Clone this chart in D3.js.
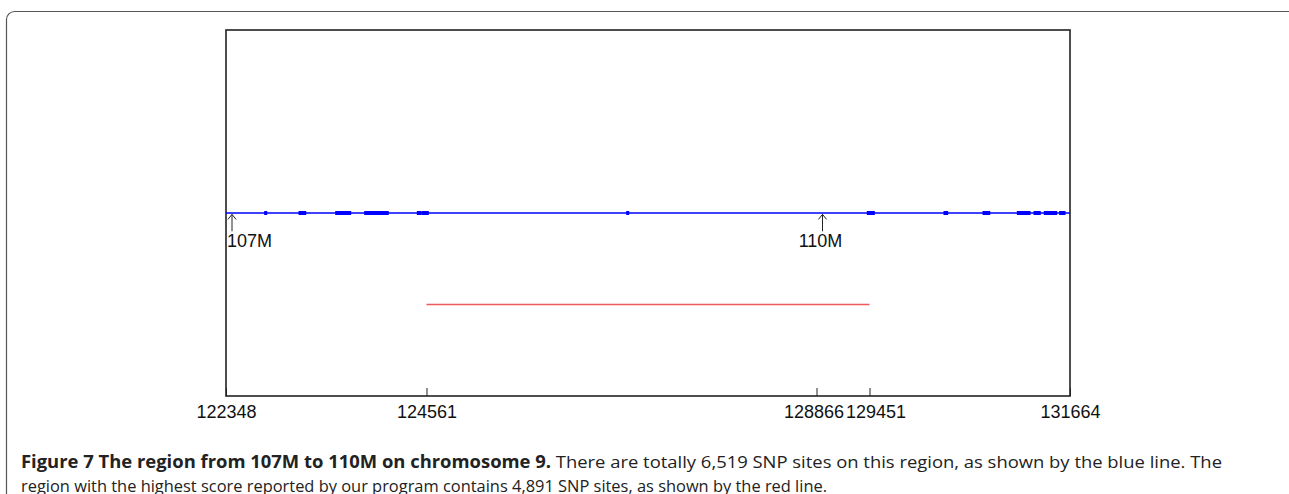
<!DOCTYPE html>
<html>
<head>
<meta charset="utf-8">
<script src="https://cdn.jsdelivr.net/npm/d3@7"></script>
<style>
  body { margin: 0; background: #fff; }
  svg { display: block; }
</style>
</head>
<body>
<script>
// x axis: SNP index, the ticks are the region borders
var tickValues = [122348, 124561, 128866, 129451, 131664];

// blue line: whole region, with the clustered SNP marks [start, end]
var blueRange = [122348, 131664];
var blueClusters = [
  [122786, 122786], [123165, 123217], [123570, 123713], [123890, 124128],
  [124471, 124489], [124522, 124570], [126782, 126782], [129438, 129493],
  [130284, 130303], [130715, 130767], [131094, 131212], [131278, 131325],
  [131391, 131506], [131561, 131598]
];

// red line: highest score region
var redRange = [124561, 129451];

// arrows for chromosome positions
var arrowPos = [122348, 128866];
var arrowLabels = ['107M', '110M'];

var captionBold = 'Figure 7 The region from 107M to 110M on chromosome 9.';
var captionLine1 = ' There are totally 6,519 SNP sites on this region, as shown by the blue line. The';
var captionLine2 = 'region with the highest score reported by our program contains 4,891 SNP sites, as shown by the red line.';

var W = 1289, H = 494;
var svg = d3.select('body').append('svg')
    .attr('width', W)
    .attr('height', H);

// outer frame (rounded, cut off at right and bottom)
svg.append('rect')
    .attr('x', 6.5).attr('y', 11.5)
    .attr('width', 1290).attr('height', 520)
    .attr('rx', 8)
    .attr('fill', 'none')
    .attr('stroke', '#555')
    .attr('stroke-width', 1.2);

var boxL = 226, boxR = 1070, boxT = 30, boxB = 396;

var x = d3.scaleLinear().domain([blueRange[0], blueRange[1]]).range([boxL, boxR]);
var y = d3.scaleLinear().domain([0, 4]).range([boxB, boxT]);

var g = svg.append('g');

// bottom axis: ticks go inward
var xAxis = d3.axisBottom(x)
    .tickValues(tickValues)
    .tickSize(-8)
    .tickPadding(9)
    .tickFormat(d3.format('d'));

var ax = g.append('g')
    .attr('transform', 'translate(0,' + boxB + ')')
    .call(xAxis);
ax.select('.domain').remove();
ax.selectAll('line').attr('stroke', '#222').attr('stroke-width', 1);
// the two close labels are pushed apart a little, like in the original
var labelShift = { 128866: -3, 129451: 6 };
ax.selectAll('text')
    .attr('fill', '#111')
    .attr('dx', function(d) { return labelShift[d] || 0; })
    .style('font-family', 'Liberation Sans, Arial, sans-serif')
    .style('font-size', '18px');

// box
g.append('rect')
    .attr('x', boxL).attr('y', boxT)
    .attr('width', boxR - boxL).attr('height', boxB - boxT)
    .attr('fill', 'none')
    .attr('stroke', '#222')
    .attr('stroke-width', 1.6);

// blue line
g.append('line')
    .attr('x1', x(blueRange[0])).attr('x2', x(blueRange[1]))
    .attr('y1', y(2)).attr('y2', y(2))
    .attr('stroke', '#0000ff')
    .attr('stroke-width', 1.5);

g.selectAll('rect.cl')
    .data(blueClusters)
    .enter().append('rect')
    .attr('class', 'cl')
    .attr('x', function(d) { return x(d[0]) - 1.5; })
    .attr('y', y(2) - 2)
    .attr('width', function(d) { return x(d[1]) - x(d[0]) + 3; })
    .attr('height', 4)
    .attr('fill', '#0000ff');

// red line
g.append('line')
    .attr('x1', x(redRange[0])).attr('x2', x(redRange[1]))
    .attr('y1', y(1)).attr('y2', y(1))
    .attr('stroke', '#f05a5a')
    .attr('stroke-width', 1.5);

// arrows + labels
var arr = g.selectAll('g.arrow')
    .data(arrowPos)
    .enter().append('g')
    .attr('class', 'arrow')
    .attr('transform', function(d) { return 'translate(' + (x(d) + 6) + ',0)'; });

arr.append('line')
    .attr('x1', 0).attr('x2', 0)
    .attr('y1', y(1.985)).attr('y2', y(1.8))
    .attr('stroke', '#222').attr('stroke-width', 1);
arr.append('path')
    .attr('d', 'M-4,' + (y(1.985) + 5) + 'L0,' + y(1.985) + 'L4,' + (y(1.985) + 5))
    .attr('fill', 'none')
    .attr('stroke', '#222').attr('stroke-width', 1);

arr.append('text')
    .attr('x', function(d, i) { return i === 0 ? -5 : -2; })
    .attr('y', y(1.63))
    .attr('text-anchor', function(d, i) { return i === 0 ? 'start' : 'middle'; })
    .style('font-family', 'Liberation Sans, Arial, sans-serif')
    .style('font-size', '18px')
    .attr('fill', '#111')
    .text(function(d, i) { return arrowLabels[i]; });

// caption
var cap = svg.append('g')
    .style('font-family', 'Open Sans, sans-serif')
    .style('font-size', '17px')
    .attr('fill', '#222');

var t1 = cap.append('text')
    .attr('x', 21).attr('y', 468)
    .attr('textLength', 1201)
    .attr('lengthAdjust', 'spacingAndGlyphs');
t1.append('tspan').style('font-weight', 'bold').text(captionBold);
t1.append('tspan').text(captionLine1);

cap.append('text')
    .attr('x', 21).attr('y', 492)
    .attr('textLength', 806)
    .attr('lengthAdjust', 'spacingAndGlyphs')
    .text(captionLine2);
</script>
</body>
</html>
